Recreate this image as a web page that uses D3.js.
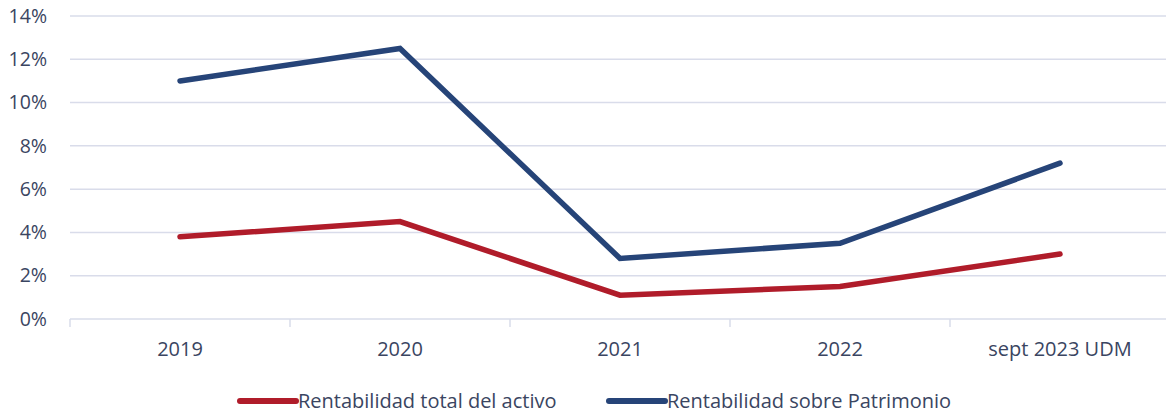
<!DOCTYPE html>
<html>
<head>
<meta charset="utf-8">
<script src="https://cdn.jsdelivr.net/npm/d3@7"></script>
<style>
  body { margin: 0; background: #fff; }
  text { font-family: "Open Sans", "Noto Sans", sans-serif; fill: #3a4561; }
</style>
</head>
<body>
<svg id="chart" width="1166" height="414"></svg>
<script>
// Categories and series values (percent)
var Years = ["2019", "2020", "2021", "2022", "sept 2023 UDM"];
var ActivoValues = [3.8, 4.5, 1.1, 1.5, 3.0];
var PatrimonioValues = [11.0, 12.5, 2.8, 3.5, 7.2];
var YTicks = [0, 2, 4, 6, 8, 10, 12, 14];
var SeriesNames = ["Rentabilidad total del activo", "Rentabilidad sobre Patrimonio"];
var SeriesColors = ["#b01c2a", "#264478"];

var SVG = d3.select("#chart");
var Margin = { Top: 16, Right: -4, Bottom: 95, Left: 70 };
var Width = 1166 - Margin.Left - Margin.Right;
var Height = 414 - Margin.Top - Margin.Bottom;
var G = SVG.append("g").attr("transform", `translate(${Margin.Left},${Margin.Top})`);

// Scales
var X = d3.scaleBand().domain(Years).range([0, Width]);
var Y = d3.scaleLinear().domain([0, 14]).range([Height, 0]);

// Gridlines
G.selectAll("line.grid")
    .data(YTicks)
    .enter()
    .append("line")
        .attr("class", "grid")
        .attr("x1", 0)
        .attr("x2", Width)
        .attr("y1", (D) => Y(D))
        .attr("y2", (D) => Y(D))
        .attr("stroke", "#d9dcea")
        .attr("stroke-width", 1.5);

// Y axis labels
var YAxis = G.append("g").call(d3.axisLeft(Y).tickValues(YTicks).tickSize(0).tickPadding(23).tickFormat((D) => D + "%"));
YAxis.select(".domain").remove();
YAxis.selectAll("text").attr("font-size", "19.5px").attr("font-family", null);

// X axis with category boundary ticks
var XAxis = G.append("g").attr("transform", `translate(0,${Height})`)
    .call(d3.axisBottom(X).tickSize(0).tickPadding(23));
XAxis.select(".domain").remove();
XAxis.selectAll("text").attr("font-size", "20px").attr("font-family", null);
G.selectAll("line.xtick")
    .data(d3.range(Years.length + 1))
    .enter()
    .append("line")
        .attr("class", "xtick")
        .attr("x1", (I) => I * X.bandwidth())
        .attr("x2", (I) => I * X.bandwidth())
        .attr("y1", Height)
        .attr("y2", Height + 8)
        .attr("stroke", "#d9dcea")
        .attr("stroke-width", 1.5);

// Lines
var Line = d3.line()
    .x((D, I) => X(Years[I]) + X.bandwidth() / 2)
    .y((D) => Y(D));
[ActivoValues, PatrimonioValues].forEach((Values, I) => {
    G.append("path")
        .datum(Values)
        .attr("d", Line)
        .attr("fill", "none")
        .attr("stroke", SeriesColors[I])
        .attr("stroke-width", 5.5)
        .attr("stroke-linecap", "round")
        .attr("stroke-linejoin", "miter");
});

// Legend
var LegendX = [240, 609];
SeriesNames.forEach((Name, I) => {
    var Item = SVG.append("g").attr("transform", `translate(${LegendX[I]},401)`);
    Item.append("line")
        .attr("x1", 0).attr("x2", 56)
        .attr("y1", 0).attr("y2", 0)
        .attr("stroke", SeriesColors[I])
        .attr("stroke-width", 6)
        .attr("stroke-linecap", "round");
    Item.append("text")
        .attr("x", 58)
        .attr("y", 0)
        .attr("dy", "0.33em")
        .attr("font-size", "20px")
        .text(Name);
});
</script>
</body>
</html>
